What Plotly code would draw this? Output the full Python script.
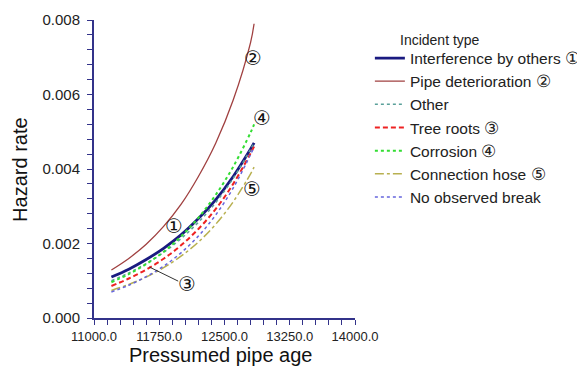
import plotly.graph_objects as go

ages = [11200, 11400, 11600, 11800, 12000, 12200, 12400, 12600, 12800, 12840]

interference = [0.00110, 0.00131, 0.00157, 0.00187, 0.00223, 0.00267, 0.00318, 0.00380, 0.00454, 0.00470]
pipe_det = [0.00129, 0.00160, 0.00198, 0.00246, 0.00305, 0.00380, 0.00470, 0.00585, 0.00740, 0.00790]
other = [0.00100, 0.00121, 0.00146, 0.00176, 0.00213, 0.00257, 0.00310, 0.00375, 0.00453, 0.00470]
tree_roots = [0.00086, 0.00106, 0.00130, 0.00159, 0.00195, 0.00239, 0.00293, 0.00360, 0.00442, 0.00460]
corrosion = [0.00096, 0.00118, 0.00145, 0.00178, 0.00219, 0.00269, 0.00331, 0.00406, 0.00498, 0.00520]
conn_hose = [0.00074, 0.00090, 0.00110, 0.00135, 0.00166, 0.00204, 0.00252, 0.00312, 0.00387, 0.00405]
no_break = [0.00070, 0.00088, 0.00111, 0.00139, 0.00175, 0.00220, 0.00277, 0.00349, 0.00439, 0.00460]

circ = '<span style="font-size:17px">{}</span>'
series_names = ["Interference by others " + circ.format("\u2460"),
                "Pipe deterioration " + circ.format("\u2461"),
                "Other",
                "Tree roots " + circ.format("\u2462"),
                "Corrosion " + circ.format("\u2463"),
                "Connection hose " + circ.format("\u2464"),
                "No observed break"]

x_tickvals = [11000, 11750, 12500, 13250, 14000]
x_ticktext = ["11000.0", "11750.0", "12500.0", "13250.0", "14000.0"]
y_tickvals = [0.000, 0.002, 0.004, 0.006, 0.008]
y_ticktext = ["0.000", "0.002", "0.004", "0.006", "0.008"]

# circled-number labels: (text, x, y)
label_text = ["\u2461", "\u2463", "\u2464", "\u2460", "\u2462"]
label_x = [12823, 12927, 12812, 11923, 12073]
label_y = [0.00698, 0.00537, 0.00346, 0.00247, 0.00091]

styles = [
    dict(color="#1a1a80", width=2.8, dash="solid"),
    dict(color="#a04040", width=1.3, dash="solid"),
    dict(color="#5aa09a", width=1.5, dash="dot"),
    dict(color="#ee2222", width=2.0, dash="5px,3px"),
    dict(color="#33dd33", width=2.0, dash="dot"),
    dict(color="#b8b050", width=1.5, dash="dashdot"),
    dict(color="#6666dd", width=1.5, dash="dot"),
]

data = [interference, pipe_det, other, tree_roots, corrosion, conn_hose, no_break]

fig = go.Figure()
for i, (name, ys, st) in enumerate(zip(series_names, data, styles)):
    fig.add_trace(go.Scatter(x=ages, y=ys, mode="lines", name=name,
                             line=dict(shape="spline", **st), legendgroup=f"g{i}"))

font_main = "Liberation Sans, Arial, Helvetica, sans-serif"
axis_col = "#33338a"

# page body adds an 8px margin, so the figure is 8px smaller than the window
fig.update_layout(
    width=577, height=360,
    margin=dict(l=86, r=230, t=12, b=50, autoexpand=False),
    paper_bgcolor="white", plot_bgcolor="white",
    font=dict(family=font_main, color="#222222"),
    showlegend=True,
    legend=dict(x=1.057, y=0.928, xanchor="left", yanchor="top",
                font=dict(size=15.5, color="#222222"), tracegroupgap=0,
                bgcolor="rgba(0,0,0,0)"),
    xaxis=dict(range=[11000, 14000], tickvals=x_tickvals, ticktext=x_ticktext,
               automargin=False,
               showgrid=False, zeroline=False, showline=True, linecolor=axis_col, linewidth=2,
               ticks="outside", ticklen=5, tickcolor=axis_col, tickwidth=1,
               tickfont=dict(size=13, color="#222222"),
               minor=dict(dtick=150, tick0=11000, ticks="outside", ticklen=5, tickcolor=axis_col)),
    yaxis=dict(range=[0, 0.008], tickvals=y_tickvals, ticktext=y_ticktext,
               automargin=False, ticklabelstandoff=4,
               showgrid=False, zeroline=False, showline=True, linecolor=axis_col, linewidth=2,
               ticks="outside", ticklen=5, tickcolor=axis_col, tickwidth=1,
               tickfont=dict(size=15, color="#222222"),
               minor=dict(dtick=0.0004, tick0=0, ticks="outside", ticklen=5, tickcolor=axis_col)),
)

# axis titles
fig.add_annotation(text="Pressumed pipe age", xref="paper", yref="paper",
                   x=0.483, y=-0.124, xanchor="center", yanchor="middle", showarrow=False,
                   font=dict(size=20, color="#111111"))
fig.add_annotation(text="Hazard rate", xref="paper", yref="paper", textangle=-90,
                   x=-0.2835, y=0.497, xanchor="center", yanchor="middle", showarrow=False,
                   font=dict(size=20, color="#111111"))

fig.add_annotation(text="Incident type", xref="paper", yref="paper", x=1.165, y=0.966,
                   xanchor="left", yanchor="top", showarrow=False,
                   font=dict(size=14, color="#222222"))

for t, lx, ly in zip(label_text, label_x, label_y):
    fig.add_annotation(text=t, x=lx, y=ly, showarrow=False,
                       font=dict(size=20, color="#111111", family="DejaVu Sans"))

# leader line for label 3
fig.add_annotation(x=11635, y=0.00137, ax=11985, ay=0.00097, xref="x", yref="y",
                   axref="x", ayref="y", text="", showarrow=True, arrowhead=0,
                   arrowwidth=1, arrowcolor="#333333")

fig.write_html("out.html")
